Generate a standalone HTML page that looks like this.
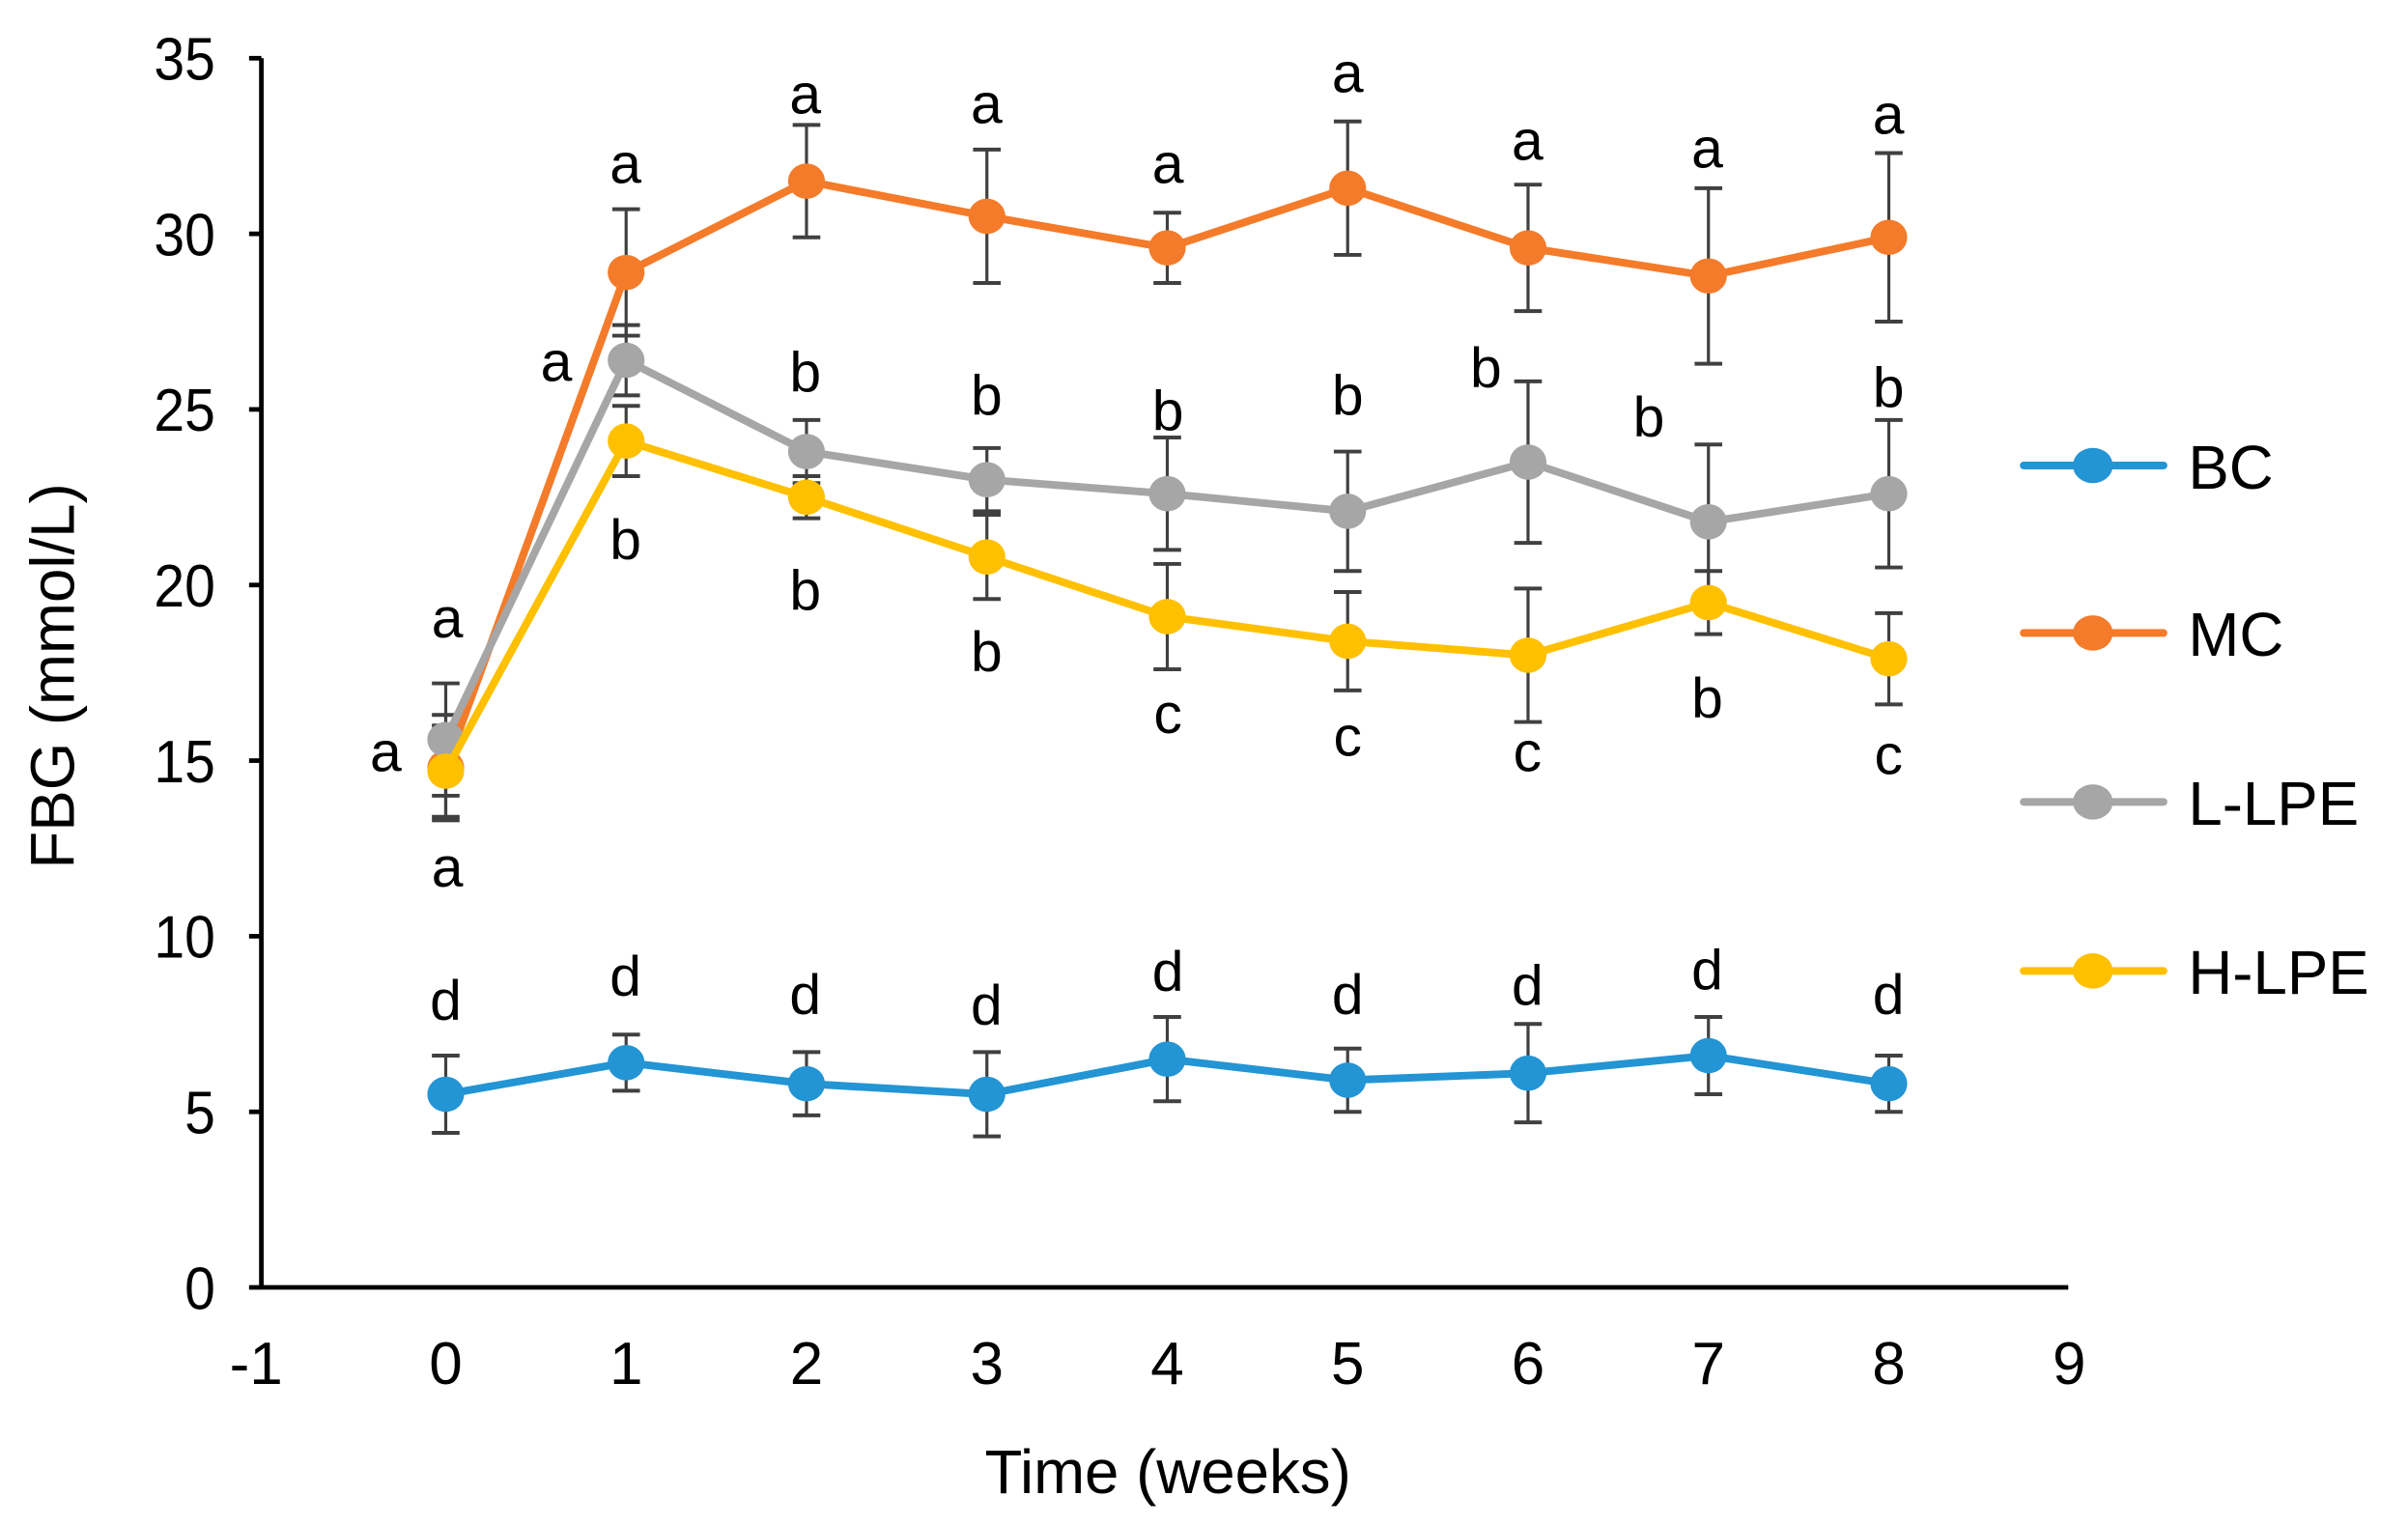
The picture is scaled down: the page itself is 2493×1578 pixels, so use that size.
<!DOCTYPE html>
<html><head><meta charset="utf-8"><style>
html,body{margin:0;padding:0;background:#fff;}
svg{display:block;}
text{font-family:"Liberation Sans",Arial,sans-serif;fill:#000;}
</style></head><body>
<svg id="s" width="2493" height="1578" viewBox="0 0 1567 992" xmlns="http://www.w3.org/2000/svg">
<rect width="1567" height="992" fill="#fff"/>
<g id="g"></g>
</svg>
<script>
const NS="http://www.w3.org/2000/svg";
const g=document.getElementById('g');
function el(t,a,txt){const e=document.createElementNS(NS,t);for(const k in a)e.setAttribute(k,a[k]);if(txt!==undefined)e.textContent=txt;g.appendChild(e);return e;}
const X=v=>290+v*117.4, Y=v=>838-v*22.86;
el('line',{x1:170,y1:Y(0),x2:1346,y2:Y(0),stroke:'#000','stroke-width':3});
el('line',{x1:170,y1:Y(0)+1,x2:170,y2:Y(35),stroke:'#000','stroke-width':3});
for(let v=0;v<=35;v+=5){el('line',{x1:162,y1:Y(v),x2:170,y2:Y(v),stroke:'#000','stroke-width':3});
 el('text',{x:140,y:Y(v)+14,'text-anchor':'end','font-size':39,transform:`translate(${140*0.08},0) scale(0.92,1)`.replace(/translate\([^)]*\)/,'translate('+(140*0.08).toFixed(1)+',0)')},String(v));}
for(let v=-1;v<=9;v++){el('text',{x:X(v)-(v<0?6:0),y:901,'text-anchor':'middle','font-size':39},String(v));}
el('text',{x:760,y:972,'text-anchor':'middle','font-size':40},'Time (weeks)');
el('text',{x:0,y:0,'text-anchor':'middle','font-size':40,transform:'translate(48,440) rotate(-90)'},'FBG (mmol/L)');
const S=[
 {c:'#2394d4',d:[5.5,6.4,5.8,5.5,6.5,5.9,6.1,6.6,5.8],e:[1.1,0.8,0.9,1.2,1.2,0.9,1.4,1.1,0.8]},
 {c:'#f47b2a',d:[14.8,28.9,31.5,30.5,29.6,31.3,29.6,28.8,29.9],e:[1.5,1.8,1.6,1.9,1.0,1.9,1.8,2.5,2.4]},
 {c:'#a6a6a6',d:[15.6,26.4,23.8,23.0,22.6,22.1,23.5,21.8,22.6],e:[1.6,1.0,0.9,0.9,1.6,1.7,2.3,2.2,2.1]},
 {c:'#ffc000',d:[14.7,24.1,22.5,20.8,19.1,18.4,18.0,19.5,17.9],e:[1.3,1.0,0.6,1.2,1.5,1.4,1.9,0.9,1.3]}
];
S.forEach(s=>s.d.forEach((v,i)=>{const x=X(i),a=Y(v+s.e[i]),b=Y(v-s.e[i]);
 el('line',{x1:x,y1:a,x2:x,y2:b,stroke:'#404040','stroke-width':2});
 el('line',{x1:x-9,y1:a,x2:x+9,y2:a,stroke:'#404040','stroke-width':2.5});
 el('line',{x1:x-9,y1:b,x2:x+9,y2:b,stroke:'#404040','stroke-width':2.5});}));
S.forEach(s=>{el('polyline',{points:s.d.map((v,i)=>X(i)+','+Y(v)).join(' '),fill:'none',stroke:s.c,'stroke-width':5,'stroke-linejoin':'round'});
 s.d.forEach((v,i)=>el('ellipse',{cx:X(i),cy:Y(v),rx:12,ry:11.5,fill:s.c}));});
const L=[[291,403,'a'],[251,490,'a'],[291,565,'a'],[290,652,'d'],
[407,107,'a'],[362,236,'a'],[407,352,'b'],[407,636,'d'],
[524,62,'a'],[524,243,'b'],[524,385,'b'],[524,648,'d'],
[642,68,'a'],[642,258,'b'],[642,425,'b'],[642,655,'d'],
[760,107,'a'],[760,268,'b'],[760,465,'c'],[760,633,'d'],
[877,48,'a'],[877,258,'b'],[877,480,'c'],[877,648,'d'],
[994,92,'a'],[967,240,'b'],[994,490,'c'],[994,642,'d'],
[1111,97,'a'],[1073,272,'b'],[1111,455,'b'],[1111,632,'d'],
[1229,75,'a'],[1229,253,'b'],[1229,492,'c'],[1229,648,'d']];
L.forEach(l=>el('text',{x:l[0],y:l[1]+12,'text-anchor':'middle','font-size':37},l[2]));
const names=['BC','MC','L-LPE','H-LPE'],ly=[303,412,522,632];
S.forEach((s,i)=>{el('line',{x1:1317,y1:ly[i],x2:1408,y2:ly[i],stroke:s.c,'stroke-width':5,'stroke-linecap':'round'});
 el('ellipse',{cx:1362,cy:ly[i],rx:13,ry:11.5,fill:s.c});
 el('text',{x:1424,y:ly[i]+15,'font-size':40},names[i]);});
</script>
</body></html>
